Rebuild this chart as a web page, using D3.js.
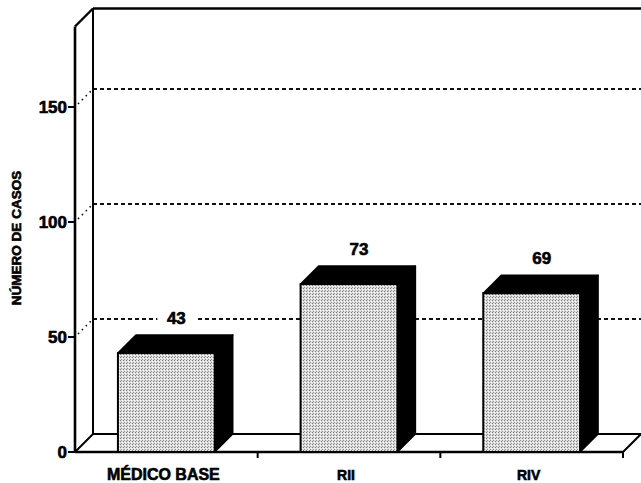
<!DOCTYPE html>
<html>
<head>
<meta charset="utf-8">
<script src="https://cdn.jsdelivr.net/npm/d3@7"></script>
<style>
  html, body { margin: 0; padding: 0; background: #fff; }
  svg { display: block; }
  text { font-family: "Liberation Sans", Arial, sans-serif; font-weight: bold; fill: #000;
         stroke: #000; stroke-width: 0.6px; }
</style>
</head>
<body>
<svg id="chart" width="641" height="483"></svg>
<script>
// Data
const categories = ["MÉDICO BASE", "RII", "RIV"];
const values = [43, 73, 69];
const yTicks = [0, 50, 100, 150];
const yTitle = "NÚMERO DE CASOS";

const W = 641, H = 483;
const depth = { x: 18, y: 18 };       // 3D depth offset of the back wall
const plot = { left: 75, right: 623, bottom: 452 };

const svg = d3.select("#chart");

const y = d3.scaleLinear().domain([0, 185]).range([plot.bottom, plot.bottom - 185 * 2.3]);
const x = d3.scaleBand().domain(categories).range([plot.left, plot.right])
  .paddingInner(0.47).paddingOuter(0.235);

// Stipple fill for bar front faces
const defs = svg.append("defs");
const pat = defs.append("pattern").attr("id", "stipple")
  .attr("width", 3).attr("height", 3).attr("patternUnits", "userSpaceOnUse");
pat.append("rect").attr("width", 3).attr("height", 3).attr("fill", "#dedede");
pat.append("rect").attr("x", 0).attr("y", 0).attr("width", 1).attr("height", 1).attr("fill", "#7a7a7a");
pat.append("rect").attr("x", 2).attr("y", 1).attr("width", 1).attr("height", 1).attr("fill", "#ffffff");
pat.append("rect").attr("x", 1).attr("y", 2).attr("width", 1).attr("height", 1).attr("fill", "#959595");

const yTop = y.domain()[1];
const bx = plot.left + depth.x;          // back wall left edge
const by = v => y(v) - depth.y;          // back wall y for a value

// Back wall: gridlines
const grid = svg.append("g");
grid.selectAll("line.grid").data(yTicks.filter(d => d > 0)).join("line")
  .attr("x1", bx).attr("x2", W)
  .attr("y1", d => by(d)).attr("y2", d => by(d))
  .attr("stroke", "#111").attr("stroke-width", 1.8)
  .attr("stroke-dasharray", "4,3");

// Dotted connectors from front ticks to back gridlines
grid.selectAll("line.conn").data(yTicks.filter(d => d > 0)).join("line")
  .attr("x1", plot.left + 3).attr("y1", d => y(d) - 3)
  .attr("x2", bx - 2).attr("y2", d => by(d) + 2)
  .attr("stroke", "#111").attr("stroke-width", 1.6)
  .attr("stroke-dasharray", "1.5,4");

// Frame: back wall edges, left wall, floor
const frame = svg.append("g").attr("fill", "none").attr("stroke", "#000")
  .attr("stroke-linejoin", "round");
frame.append("line").attr("x1", bx).attr("x2", W).attr("y1", by(yTop)).attr("y2", by(yTop)).attr("stroke-width", 2.6);
frame.append("line").attr("x1", bx).attr("x2", bx).attr("y1", by(yTop)).attr("y2", by(0)).attr("stroke-width", 2);
frame.append("line").attr("x1", plot.left).attr("y1", y(yTop)).attr("x2", bx).attr("y2", by(yTop)).attr("stroke-width", 2.4);
frame.append("line").attr("x1", plot.left).attr("x2", plot.left).attr("y1", y(yTop)).attr("y2", y(0)).attr("stroke-width", 2.6);
// floor
frame.append("line").attr("x1", bx).attr("x2", W).attr("y1", by(0)).attr("y2", by(0)).attr("stroke-width", 2);
frame.append("line").attr("x1", plot.left).attr("y1", y(0)).attr("x2", bx).attr("y2", by(0)).attr("stroke-width", 2);
frame.append("line").attr("x1", plot.right).attr("y1", y(0)).attr("x2", plot.right + depth.x).attr("y2", by(0)).attr("stroke-width", 2);
frame.append("line").attr("x1", plot.left).attr("x2", plot.right).attr("y1", y(0)).attr("y2", y(0)).attr("stroke-width", 2.4);

// Y axis ticks and labels
const yAxis = svg.append("g");
yAxis.selectAll("line").data(yTicks).join("line")
  .attr("x1", plot.left - 7).attr("x2", plot.left)
  .attr("y1", d => y(d)).attr("y2", d => y(d))
  .attr("stroke", "#000").attr("stroke-width", 2);
yAxis.selectAll("text").data(yTicks).join("text")
  .attr("x", plot.left - 8).attr("y", d => y(d) + 6)
  .attr("text-anchor", "end").attr("font-size", 17)
  .text(d => d);

// Category ticks at band boundaries
const step = x.step();
svg.append("g").selectAll("line").data(d3.range(1, categories.length + 1)).join("line")
  .attr("x1", i => plot.left + i * step).attr("x2", i => plot.left + i * step)
  .attr("y1", y(0)).attr("y2", y(0) + 6)
  .attr("stroke", "#000").attr("stroke-width", 2);

// Bars
const bars = svg.append("g").selectAll("g").data(categories.map((c, i) => ({ c, v: values[i] }))).join("g");
bars.append("polygon") // right side
  .attr("points", d => {
    const x1 = x(d.c) + x.bandwidth(), yt = y(d.v), yb = y(0);
    return [[x1, yt], [x1 + depth.x, yt - depth.y], [x1 + depth.x, yb - depth.y], [x1, yb]].join(" ");
  })
  .attr("fill", "#000").attr("stroke", "#000").attr("stroke-width", 1.5).attr("stroke-linejoin", "round");
bars.append("polygon") // top
  .attr("points", d => {
    const x0 = x(d.c), x1 = x0 + x.bandwidth(), yt = y(d.v);
    return [[x0, yt], [x0 + depth.x, yt - depth.y], [x1 + depth.x, yt - depth.y], [x1, yt]].join(" ");
  })
  .attr("fill", "#000").attr("stroke", "#000").attr("stroke-width", 1.5).attr("stroke-linejoin", "round");
bars.append("rect") // front
  .attr("x", d => x(d.c)).attr("y", d => y(d.v))
  .attr("width", x.bandwidth()).attr("height", d => y(0) - y(d.v))
  .attr("fill", "url(#stipple)").attr("stroke", "#000").attr("stroke-width", 2);

// Value labels with a white backing
const lab = svg.append("g").selectAll("g").data(categories.map((c, i) => ({ c, v: values[i] }))).join("g")
  .attr("transform", d => `translate(${x(d.c) + x.bandwidth() / 2 + 10},${y(d.v) - depth.y - 11})`);
lab.append("rect").attr("x", -19).attr("y", -15).attr("width", 38).attr("height", 18).attr("fill", "#fff");
lab.append("text").attr("text-anchor", "middle").attr("font-size", 17).text(d => d.v);

// Category labels
svg.append("g").selectAll("text").data(categories).join("text")
  .attr("x", d => x(d) + x.bandwidth() / 2 - 3)
  .attr("y", 480)
  .attr("text-anchor", "middle")
  .attr("font-size", d => d.length > 4 ? 16 : 14)
  .text(d => d);

// Y axis title
svg.append("text")
  .attr("transform", "translate(21,238) rotate(-90)")
  .attr("text-anchor", "middle").attr("font-size", 13.5)
  .text(yTitle);
</script>
</body>
</html>
